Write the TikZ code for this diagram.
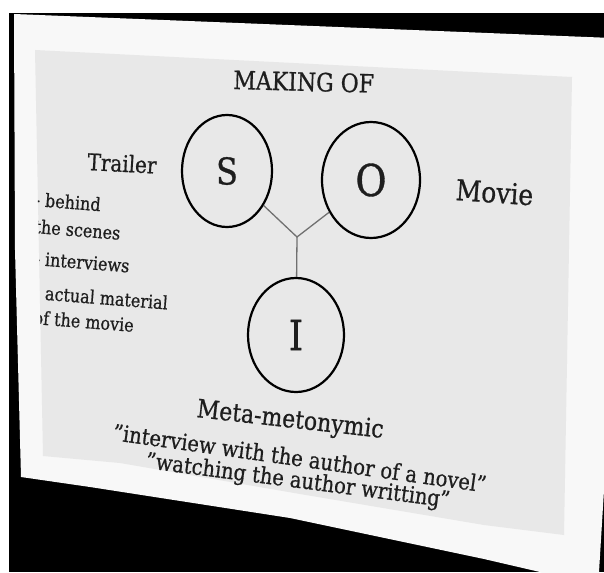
\documentclass[tikz,border=0pt]{standalone}
\usepackage{fontspec}
\setmainfont{DejaVu Serif}[FakeBold=0.8]
\usetikzlibrary{shapes.geometric}
\definecolor{inkgray}{HTML}{1E1E1E}
\definecolor{linkgray}{HTML}{707070}
\definecolor{panelgray}{HTML}{E8E8E8}
\definecolor{framewhite}{HTML}{F8F8F8}
% taller lettering for the slide face
\newcommand{\tallbox}[1]{\scalebox{1}[1.15]{#1}}
\newcommand{\fs}[1]{\fontsize{#1}{#1}\selectfont}
\begin{document}
\begin{tikzpicture}[x=1pt,y=-1pt,
  ink/.style={text=inkgray, inner sep=0pt, anchor=base west},
  ring/.style={draw=black, line width=2.2pt, ellipse, inner sep=0pt, text=inkgray},
  conn/.style={draw=linkgray, line width=1.3pt}]
\useasboundingbox (0,0) rectangle (604,572);
\fill[white] (0,0) rectangle (604,572);
\fill[black] (9,13) rectangle (604,572);

% slide frame and panel, seen at an angle
\fill[framewhite] (14,14) -- (612,38) -- (604,490) -- (599,572) -- (599,600)
  -- (540,572) -- (484,559) -- (290,518) -- (90,487) -- (21,477) -- (15,250) -- cycle;
\path (35,50) coordinate (p1) (572,77) coordinate (p2) (564,535) coordinate (p3)
  (484,525) coordinate (p4) (300,494) coordinate (p5) (120,463) coordinate (p6)
  (43,456) coordinate (p7);
\fill[panelgray] (p1) -- (p2) -- (p3) -- (p4) -- (p5) -- (p6) -- (p7) -- cycle;

% title and side labels
\node[ink, rotate=-1.5] (title) at (233,89) {\fs{22}\tallbox{MAKING OF}};
\node[ink, rotate=-3] (trailer) at (87,170) {\fs{20}\tallbox{Trailer}};
\node[ink, rotate=-4] (movie) at (455,200) {\fs{25}\tallbox{Movie}};

% bullet list, cut off by the panel edge
\begin{scope}
\clip (p1) -- (p2) -- (p3) -- (p4) -- (p5) -- (p6) -- (p7) -- cycle;
\node[ink, rotate=-4.5] (l1) at (34,206) {\fs{16}\tallbox{- behind}};
\node[ink, rotate=-4.5] (l2) at (34,233) {\fs{16}\tallbox{the scenes}};
\node[ink, rotate=-4.5] (l3) at (34,265) {\fs{16}\tallbox{- interviews}};
\node[ink, rotate=-4.5] (l4) at (34,299) {\fs{16}\tallbox{- actual material}};
\node[ink, rotate=-4.5] (l5) at (33,324) {\fs{16}\tallbox{of the movie}};
\end{scope}

% the three circles and their joining lines
\node[ring, minimum width=90pt, minimum height=112pt] (S) at (227,171) {\fs{32}\tallbox{S}};
\node[ring, minimum width=98pt, minimum height=116pt] (O) at (371,180) {\fs{38}\tallbox{O}};
\node[ring, minimum width=96pt, minimum height=114pt] (I) at (296,335) {\fs{36}\tallbox{I}};
\coordinate (j) at (297,237);
\draw[conn] (S) -- (j) -- (O);
\draw[conn] (j) -- (I);

% bottom caption
\node[ink, rotate=-6.4] (meta) at (196,417) {\fs{22}\tallbox{Meta-metonymic}};
\node[ink, rotate=-8] (q1) at (112,440) {\fs{19.6}\tallbox{"interview with the author of a novel"}};
\node[ink, rotate=-7.4] (q2) at (145,468) {\fs{19.5}\tallbox{"watching the author writting"}};
\end{tikzpicture}
\end{document}
